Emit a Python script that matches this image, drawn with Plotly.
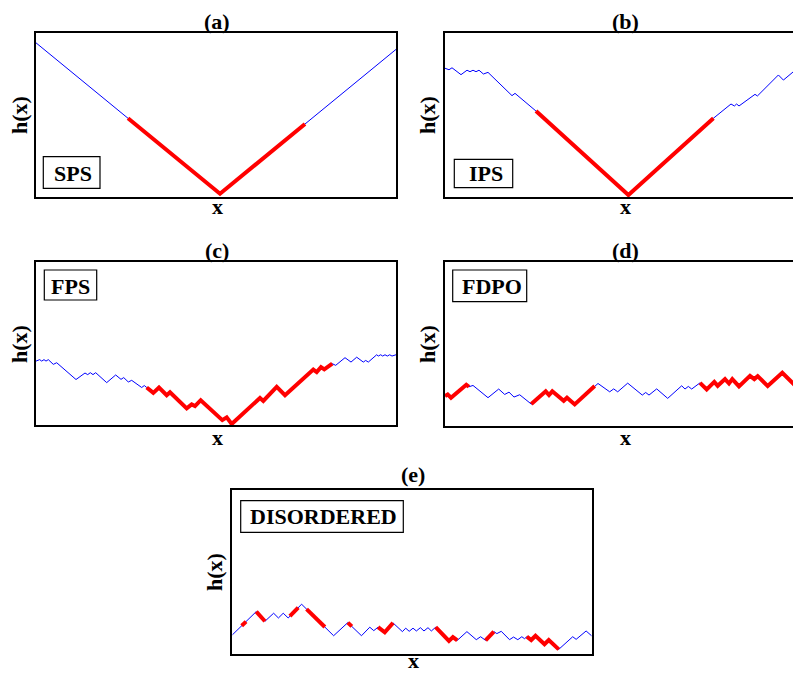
import plotly.graph_objects as go

# ---------------- data (lattice position x, height h) ----------------
# (a) SPS
a_x = [0, 92, 180]
a_h = [94, 2, 90]
a_red_x = [46, 92, 134.5]
a_red_h = [48, 2, 44.5]

# (b) IPS
b_x = [0, 2, 3.5, 8, 11, 12.5, 14, 15.5, 17, 19.2, 21.5, 33.5, 35, 45.5, 91.7, 134.2,
       143, 144.7, 145.8, 147, 155, 156.2, 166.7, 169.2, 174.2, 180]
b_h = [78.5, 77.6, 78.8, 74.6, 77.3, 76.4, 77.3, 76.4, 77.3, 75, 76, 61.8, 63.2, 52.4, 1.2, 48,
       56.7, 55.5, 56.7, 55.5, 62.6, 61.6, 74.4, 71.3, 76.4, 81]
b_red_x = [45.5, 91.7, 134.2]
b_red_h = [52.4, 1.2, 48]

# (c) FPS
c_x = [0, 1.85, 2.85, 4, 5, 6.15, 8.65, 10.35, 20, 24.5, 25.85, 27.15, 28.5, 29.85, 35.35,
       39.85, 42.5, 43.85, 46.15, 47.85, 52.85, 54.15, 55.35, 58.65, 61.5, 65.35, 67, 75.35,
       77.85, 79.5, 82.35, 93.15, 95.35, 97.85, 112, 113.65, 120.35, 124.5, 138.65, 140.35,
       142.5, 144.15, 148.15, 149.85, 154.5, 157.5, 160.35, 163.65, 164.85, 166.15, 170.35,
       171.15, 172.35, 173.35, 174.5, 175.65, 176.85, 178, 180]
c_h = [39.2, 40.1, 39.2, 40.1, 39.2, 40.1, 37.2, 38.2, 27.9, 31.9, 30.9, 32.1, 30.9, 32.1, 26.0,
       30.7, 28.0, 29.1, 26.4, 27.4, 23.0, 24.2, 23.0, 19.7, 23.0, 18.3, 20.1, 10.2,
       12.6, 11.6, 15.2, 3.0, 4.7, 0.6, 16.6, 14.8, 23.4, 18.3, 34.0, 32.5,
       35.5, 34.1, 37.6, 36.6, 41.3, 38.6, 41.6, 38.6, 39.6, 38.6, 43.1,
       42.3, 43.1, 42.3, 43.1, 42.3, 43.1, 42.3, 43.1]
c_red_x = [55.35, 58.65, 61.5, 65.35, 67, 75.35, 77.85, 79.5, 82.35, 93.15, 95.35, 97.85, 112,
           113.65, 120.35, 124.5, 138.65, 140.35, 142.5, 144.15, 148.15]
c_red_h = [23.0, 19.7, 23.0, 18.3, 20.1, 10.2, 12.6, 11.6, 15.2, 3.0, 4.7, 0.6, 16.6,
           14.8, 23.4, 18.3, 34.0, 32.5, 35.5, 34.1, 37.6]

# (d) FDPO
d_x = [0, 1.35, 3, 10.65, 12, 14, 21.5, 26.85, 29.85, 32, 34.5, 37.35, 43.15, 50.35, 52,
       53.65, 59.35, 61, 64.85, 74.85, 76.5, 82.35, 84.35, 86.35, 91.35, 98.65, 100.35, 102,
       105.85, 111.35, 118.35, 120, 121.65, 123.35, 127.5, 130.85, 134.65, 136.35, 140, 142,
       143.65, 147, 152.5, 154.65, 156.35, 161.35, 168.65, 174, 177.5, 180]
d_h = [18, 19, 17, 24.9, 23.7, 24.5, 17, 22.3, 19, 20.4, 17.4, 18.8, 13.1, 20.9, 18.6,
       20.9, 15.1, 17, 12.9, 24.1, 25.7, 20.6, 22.4, 20.6, 25.9, 18.6, 20.2, 18.6,
       22.4, 16.6, 24.3, 22.3, 23.9, 22.3, 26.1, 22.1, 26.7, 24.3, 28.4, 25.7,
       28.4, 23.9, 30.4, 28.4, 30.2, 24.1, 32.2, 25.7, 21.5, 24]
d_red_x = [0, 1.35, 3, 10.65, 12, None,
           43.15, 50.35, 52, 53.65, 59.35, 61, 64.85, 74.85, None,
           127.5, 130.85, 134.65, 136.35, 140, 142, 143.65, 147, 152.5, 154.65, 156.35,
           161.35, 168.65, 174, 177.5, 180]
d_red_h = [18, 19, 17, 24.9, 23.7, None,
           13.1, 20.9, 18.6, 20.9, 15.1, 17, 12.9, 24.1, None,
           26.1, 22.1, 26.7, 24.3, 28.4, 25.7, 28.4, 23.9, 30.4, 28.4, 30.2,
           24.1, 32.2, 25.7, 21.5, 24]

# (e) DISORDERED
e_x = [0, 12, 16.35, 20.7, 23.1, 25.5, 28, 34.7, 50.75, 57.85, 64.7, 68.85, 70.85, 73, 76.35,
       80.5, 85.2, 86.85, 88.6, 90.5, 92.2, 94.2, 96, 98, 99.7, 101.85, 108.5, 110.5, 112.7,
       117.5, 122.2, 124.35, 126.85, 131, 132.5, 134.7, 138.85, 140.85, 143, 145, 146.35,
       147.5, 149.7, 151.85, 156.35, 158.5, 163.5, 170.5, 172.2, 177.2, 180]
e_h = [11.8, 26, 20.1, 25, 22.1, 25, 22.1, 30.5, 11.3, 19.3, 11.3, 16.5, 14.4, 16.5, 13.4,
       19.1, 13.8, 15.9, 14, 15.9, 14.2, 16.2, 14.2, 16.2, 14.2, 16.5, 8.1, 10.5, 8.5,
       13.8, 8.9, 10.7, 8.5, 13.8, 12.6, 14, 8.9, 10.5, 8.9, 10.7, 9.5,
       10.7, 8.7, 11.3, 6.1, 8.7, 3, 10.7, 9.1, 14.2, 11.2]
e_red_x = [4.7, 6.9, None, 12, 16.35, None, 28.85, 33, None, 37.2, 46.35, None,
           57.85, 59.85, None, 73, 76.35, 80.5, None, 101.85, 108.5, 110.5, 112.7, None,
           126.85, 131, None, 147.5, 149.7, 151.85, 156.35, 158.5, 163.5]
e_red_h = [17.4, 19.9, None, 26.0, 20.1, None, 23.2, 28.4, None, 27.5, 16.6, None,
           19.3, 17.0, None, 16.5, 13.4, 19.1, None, 16.5, 8.1, 10.5, 8.5, None,
           8.5, 13.8, None, 10.7, 8.7, 11.3, 6.1, 8.7, 3.0]

panel_titles = ["(a)", "(b)", "(c)", "(d)", "(e)"]
phase_labels = ["SPS", "IPS", "FPS", "FDPO", "DISORDERED"]
y_title = "h(x)"
x_title = "x"

# ---------------- layout helpers ----------------
W, H = 793, 675
def px(x):
    return x / W
def py(y):
    return 1 - y / H

FONT = "Liberation Serif, Times New Roman, serif"
BLUE = "#0000FF"
RED = "#FF0000"

# panel frames in pixels: left, right, top, bottom, x-range max, right frame shown
panels = [
    dict(l=36, r=396, t=33, b=197, xmax=180, full=True),
    dict(l=445, r=793, t=33, b=197, xmax=174, full=False),
    dict(l=36, r=396, t=262, b=425, xmax=180, full=True),
    dict(l=445, r=793, t=262, b=425.5, xmax=174, full=False),
    dict(l=232.3, r=591.7, t=490, b=654.3, xmax=180, full=True),
]
profiles = [(a_x, a_h, a_red_x, a_red_h), (b_x, b_h, b_red_x, b_red_h),
            (c_x, c_h, c_red_x, c_red_h), (d_x, d_h, d_red_x, d_red_h),
            (e_x, e_h, e_red_x, e_red_h)]

fig = go.Figure()
layout = {}
for i, (p, prof) in enumerate(zip(panels, profiles)):
    k = "" if i == 0 else str(i + 1)
    xa, ya = "x" + k, "y" + k
    fig.add_trace(go.Scatter(x=prof[0], y=prof[1], mode="lines", xaxis=xa, yaxis=ya,
                             line=dict(color=BLUE, width=1), hoverinfo="skip"))
    fig.add_trace(go.Scatter(x=prof[2], y=prof[3], mode="lines", xaxis=xa, yaxis=ya,
                             line=dict(color=RED, width=4), hoverinfo="skip",
                             connectgaps=False))
    common = dict(showticklabels=False, ticks="", showgrid=False, zeroline=False,
                  showline=True, linecolor="black", linewidth=2, fixedrange=True)
    layout["xaxis" + k] = dict(domain=[px(p["l"]), px(p["r"])], range=[0, p["xmax"]],
                               anchor=ya, mirror=True, **common)
    layout["yaxis" + k] = dict(domain=[py(p["b"]), py(p["t"])], range=[0, 100],
                               anchor=xa, mirror=p["full"], **common)

fig.update_layout(**layout)

ann = []
def text(x, y, s, size, angle=0, yanchor="middle"):
    ann.append(dict(x=px(x), y=py(y), xref="paper", yref="paper", text=s, showarrow=False,
                    xanchor="center", yanchor=yanchor, textangle=angle,
                    font=dict(family=FONT, size=size, color="black", weight="bold")))

title_pos = [(217, 21.5), (625, 21.5), (217, 250.5), (625, 250.5), (413, 474.5)]
ylab_pos = [(19, 115), (427, 115), (19, 344), (427, 344), (214, 572)]
xlab_pos = [(217, 207), (625, 207), (217, 437), (625, 437)]
for i in range(5):
    text(*title_pos[i], panel_titles[i], 22)
    text(*ylab_pos[i], y_title, 22, angle=-90)
for i in range(4):
    text(*xlab_pos[i], x_title, 22)
text(413, 675, x_title, 22, yanchor="bottom")

box_pos = [(43.3, 156.7, 100, 188.3), (454.3, 159.3, 512.7, 187.7), (44.3, 270, 96.7, 300),
           (452.7, 270, 526.7, 301.7), (240.7, 500.7, 403.3, 532.3)]
label_pos = [(72.5, 173.5), (486, 173.5), (70.5, 286.5), (491.7, 287), (323, 516)]
shapes = []
for i in range(5):
    x0, y0, x1, y1 = box_pos[i]
    shapes.append(dict(type="rect", xref="paper", yref="paper", x0=px(x0), x1=px(x1),
                       y0=py(y1), y1=py(y0), line=dict(color="black", width=1.2),
                       fillcolor="white", layer="above"))
    text(*label_pos[i], phase_labels[i], 22)

fig.update_layout(width=W, height=H, margin=dict(l=0, r=0, t=0, b=0),
                  plot_bgcolor="white", paper_bgcolor="white", showlegend=False,
                  annotations=ann, shapes=shapes, hovermode=False)

fig.write_html("out.html", config={"displayModeBar": False},
               post_script="document.body.style.margin='0px';document.body.style.overflow='hidden';")
